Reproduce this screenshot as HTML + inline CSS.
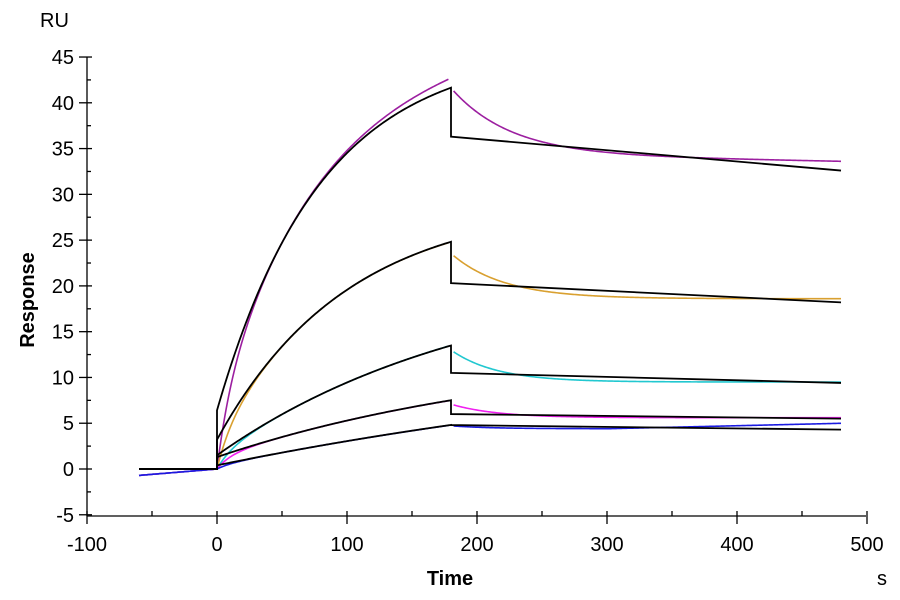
<!DOCTYPE html>
<html><head><style>
body{margin:0;background:#fff}
svg{display:block}
text{font-family:"Liberation Sans",Arial,sans-serif;fill:#000}
</style></head><body>
<svg id="s" width="900" height="600" xmlns="http://www.w3.org/2000/svg">
<g font-size="20" text-anchor="end" id="yl"></g>
<g font-size="20" text-anchor="middle" id="xl"></g>
<g stroke="#000" stroke-width="1.3" id="ax">
<line x1="87" y1="57" x2="87" y2="516"/>
<line x1="87" y1="516" x2="866" y2="516"/>
</g>
<text x="40" y="27" font-size="20">RU</text>
<text x="0" y="0" font-size="20" font-weight="bold" transform="translate(34,300) rotate(-90)" text-anchor="middle">Response</text>
<text x="450" y="585" font-size="20" font-weight="bold" text-anchor="middle">Time</text>
<text x="882" y="585" font-size="20" text-anchor="middle">s</text>
<g id="curves" fill="none" stroke-width="1.6"></g>
</svg>
<script>
var NS="http://www.w3.org/2000/svg";
function X(t){return 217+1.3*t}
function Y(v){return 469-9.155*v}
function el(p,n,a,txt){var e=document.createElementNS(NS,n);for(var k in a)e.setAttribute(k,a[k]);if(txt!=null)e.textContent=txt;p.appendChild(e);return e}
var ax=document.getElementById('ax'),yl=document.getElementById('yl'),xl=document.getElementById('xl');
for(var v=-5;v<=45;v+=5){var y=Y(v);el(ax,'line',{x1:79,x2:92,y1:y,y2:y});el(yl,'text',{x:74,y:y+7},v);
 if(v<45){var y2=Y(v+2.5);el(ax,'line',{x1:87,x2:91,y1:y2,y2:y2});}}
for(var t=-100;t<=500;t+=100){var x=X(t);el(ax,'line',{x1:x,x2:x,y1:511,y2:524});el(xl,'text',{x:x,y:551},t);
 if(t<500){var x2=X(t+50);el(ax,'line',{x1:x2,x2:x2,y1:511,y2:516});}}
var g=document.getElementById('curves');
function path(f,t0,t1,col,w){var d='';for(var t=t0;t<=t1;t+=1){d+=(t==t0?'M':'L')+X(t).toFixed(1)+' '+Y(f(t)).toFixed(2)+' ';}el(g,'path',{d:d,stroke:col,'stroke-width':w||1.6});}
// [jump,A,k,dissStart,dissEnd, colEnd, colD0, colInf, color, tau]
var S=[
 [6.4,39.4,0.0125,36.3,32.6,42.7,40.5,33.6,'#9c1fa0',45],
 [3.2,25.9,0.01,20.3,18.2,24.8,23.3,18.6,'#d9a030',40],
 [1.5,20.2,0.005,10.5,9.4,13.5,12.8,9.5,'#22c8d0',35],
 [1.3,12.1,0.004,6.0,5.5,7.5,7.0,5.6,'#f020f0',35],
 [0.4,14.6,0.002,4.8,4.3,4.8,4.7,4.5,'#1a1ae0',30]
];
function B(s,t){return s[0]+s[1]*(1-Math.exp(-s[2]*t));}
S.forEach(function(s,i){
 var e=B(s,180);
 var col=function(t){var c=(B(s,t)-s[0]*Math.exp(-t/10));var r=t/180;return c*(1+(s[5]/e-1)*r*r);};
 path(function(t){return -0.7*(-t)/60;},-60,0,s[8]);
 path(col,0,178,s[8]);
 path(function(t){var u=t-182;var v=s[7]+(s[6]-s[7])*Math.exp(-u/s[9])+(i==0?0.8*(1-u/298):0);if(i==4)v=4.4+(u>120?(u-120)/180*0.6:0)+0.3*Math.exp(-u/30);return v;},182,480,s[8]);
});
S.forEach(function(s,i){
 var d='M'+X(-60)+' '+Y(0)+' L'+X(0)+' '+Y(0)+' ';
 for(var t=0;t<=180;t++)d+='L'+X(t).toFixed(1)+' '+Y(B(s,t)).toFixed(2)+' ';
 d+='L'+X(180)+' '+Y(s[3])+' L'+X(480)+' '+Y(s[4]);
 el(g,'path',{d:d,stroke:'#000','stroke-width':1.8});
});
</script>
</body></html>
